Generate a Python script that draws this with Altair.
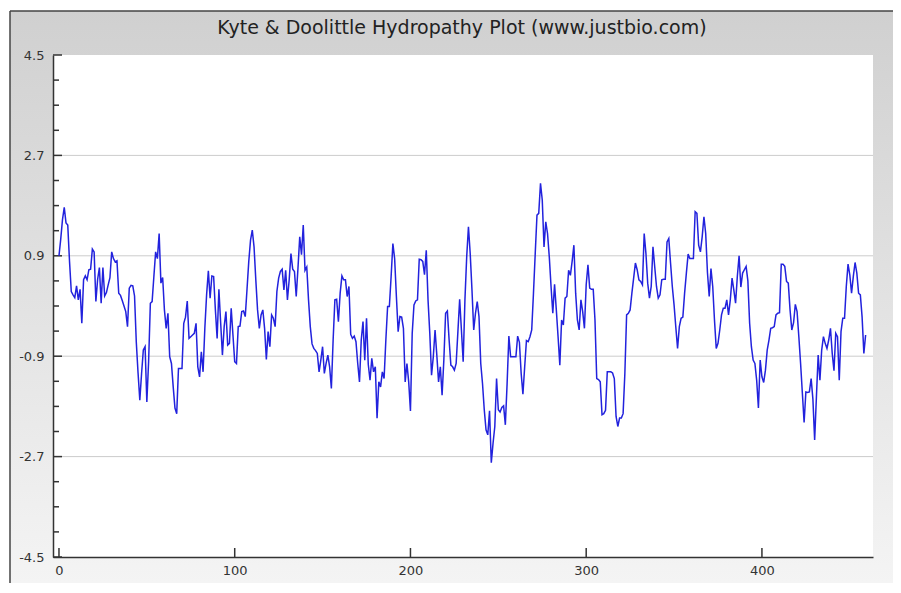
import altair as alt
import pandas as pd

# Hydropathy scores, one per residue
scores = [
    0.9, 1.2, 1.55, 1.77, 1.49, 1.45, 0.8, 0.26, 0.2, 0.15,
    0.36, 0.11, 0.3, -0.31, 0.47, 0.54, 0.47, 0.65, 0.66, 1.02,
    0.97, 0.08, 0.48, 0.69, 0.05, 0.69, 0.18, 0.24, 0.38, 0.51,
    0.97, 0.85, 0.79, 0.81, 0.23, 0.19, 0.1, 0.0, -0.1, -0.37,
    0.32, 0.37, 0.36, 0.18, -0.65, -1.2, -1.69, -1.21, -0.79, -0.73,
    -1.72, -1.0, 0.05, 0.08, 0.53, 0.97, 0.85, 1.3, 0.41, 0.51,
    -0.07, -0.4, -0.13, -0.91, -1.03, -1.45, -1.83, -1.93, -1.12, -1.12,
    -1.12, -0.31, -0.2, 0.09, -0.58, -0.55, -0.52, -0.49, -0.31, -1.09,
    -1.27, -0.82, -1.18, -0.4, 0.2, 0.63, 0.14, 0.54, 0.53, -0.07,
    -0.58, 0.3, -0.3, -0.88, -0.37, -0.1, -0.7, -0.67, -0.04, -0.52,
    -1.0, -1.03, -0.37, -0.36, -0.1, -0.09, -0.19, 0.3, 0.8, 1.18,
    1.36, 1.06, 0.47, -0.07, -0.4, -0.16, -0.07, -0.4, -0.96, -0.46,
    -0.73, -0.16, -0.22, -0.37, 0.26, 0.5, 0.62, 0.66, 0.29, 0.64,
    0.11, 0.47, 0.94, 0.66, 0.62, 0.17, 0.68, 1.24, 0.92, 1.45,
    0.64, 0.7, 0.11, -0.37, -0.68, -0.76, -0.8, -0.85, -1.18, -0.97,
    -0.73, -1.21, -1.03, -0.88, -1.09, -1.48, -0.61, 0.11, 0.12, -0.28,
    0.23, 0.54, 0.47, 0.47, 0.17, 0.35, -0.51, -0.58, -0.54, -0.64,
    -1.03, -1.36, -0.61, -0.28, -0.97, -0.22, -1.05, -1.33, -0.94, -1.18,
    -1.09, -2.01, -1.36, -1.45, -1.18, -1.3, -0.61, -0.01, -0.01, 0.53,
    1.12, 0.85, 0.17, -0.46, -0.19, -0.2, -0.4, -1.36, -1.03, -1.36,
    -1.88, -0.49, 0.02, 0.09, 0.11, 0.84, 0.83, 0.8, 0.56, 1.0,
    0.11, -0.49, -1.24, -0.91, -0.43, -0.88, -1.36, -1.09, -1.6, -0.97,
    -0.13, -0.09, -0.61, -1.06, -1.09, -1.15, -1.03, -0.46, 0.12, -0.43,
    -1.0, 0.11, 0.88, 1.42, 0.94, 0.29, -0.43, -0.13, 0.08, -0.19,
    -1.03, -1.39, -1.86, -2.22, -2.31, -1.88, -2.81, -2.46, -2.16, -1.3,
    -1.86, -1.9, -1.82, -1.79, -2.13, -1.39, -0.54, -0.91, -0.91, -0.91,
    -0.91, -0.54, -0.65, -1.21, -1.58, -1.09, -0.62, -0.64, -0.55, -0.43,
    0.23, 0.94, 1.63, 1.66, 2.2, 1.9, 1.06, 1.51, 1.3, 0.88,
    0.35, -0.13, 0.39, -0.07, -0.55, -1.06, -0.25, -0.34, 0.14, 0.17,
    0.64, 0.55, 0.8, 1.09, 0.23, -0.25, -0.43, 0.11, -0.1, -0.4,
    0.38, 0.74, 0.32, 0.3, 0.3, -0.25, -1.3, -1.32, -1.36, -1.95,
    -1.93, -1.87, -1.18, -1.18, -1.18, -1.2, -1.3, -1.98, -2.16, -2.01,
    -2.01, -1.93, -1.21, -0.16, -0.13, -0.07, 0.23, 0.5, 0.77, 0.65,
    0.47, 0.44, 0.38, 1.3, 0.94, 0.41, 0.14, 0.35, 1.06, 0.7,
    0.35, 0.14, 0.2, 0.47, 0.48, 0.48, 1.15, 1.21, 0.77, 0.35,
    0.02, -0.38, -0.76, -0.37, -0.22, -0.2, 0.23, 0.59, 0.93, 0.85,
    0.85, 0.85, 1.69, 1.66, 1.09, 0.97, 1.24, 1.6, 1.3, 0.6,
    0.17, 0.67, 0.35, -0.25, -0.76, -0.67, -0.43, -0.16, -0.04, -0.04,
    0.11, -0.16, 0.11, 0.5, 0.29, 0.05, 0.53, 0.9, 0.34, 0.59,
    0.65, 0.71, 0.45, -0.31, -0.73, -0.97, -1.03, -1.33, -1.83, -0.97,
    -1.27, -1.37, -1.15, -0.79, -0.61, -0.4, -0.39, -0.37, -0.16, -0.13,
    -0.12, 0.75, 0.75, 0.71, 0.44, 0.41, -0.07, -0.43, -0.3, 0.03,
    -0.1, -0.55, -1.03, -1.56, -2.09, -1.54, -1.55, -1.54, -1.3, -1.67,
    -2.4, -1.63, -0.88, -1.33, -0.79, -0.55, -0.67, -0.76, -0.61, -0.4,
    -0.85, -1.16, -0.49, -0.55, -1.33, -0.46, -0.22, -0.22, 0.35, 0.75,
    0.56, 0.23, 0.53, 0.78, 0.59, 0.23, 0.2, -0.2, -0.85, -0.52,
]
residues = list(range(len(scores)))

y_major = [-4.5, -2.7, -0.9, 0.9, 2.7, 4.5]
y_minor = [-4.05, -3.6, -3.15, -2.25, -1.8, -1.35, -0.45, 0.0, 0.45,
           1.35, 1.8, 2.25, 3.15, 3.6, 4.05]
grid_values = [-2.7, -0.9, 0.9, 2.7]
x_major = [0, 100, 200, 300, 400]
title_text = "Kyte & Doolittle Hydropathy Plot (www.justbio.com)"

W, H = 820, 502
FONT = "DejaVu Sans"
AX = "#333333"

xscale = alt.Scale(domain=[-3.4, 463.2], nice=False, zero=False)
yscale = alt.Scale(domain=[-4.5, 4.5], nice=False, zero=False)

x_axis = alt.Axis(values=x_major, format="d", ticks=False, tickSize=0,
                  grid=False, title=None, labelPadding=7, labelFlush=False,
                  zindex=2)
y_axis = alt.Axis(values=y_major, ticks=False, tickSize=0, grid=False,
                  title=None, labelPadding=9, zindex=2, labelFlush=False,
                  labelExpr="datum.value < 0 ? '-' + format(-datum.value, '.1f') : format(datum.value, '.1f')")

one = pd.DataFrame({"k": [0]})

# panel background (gradient) and white plot area
bg = alt.Chart(one).mark_rect(
    fill=alt.Gradient(
        gradient="linear",
        stops=[alt.GradientStop(color="#d0d0d0", offset=0),
               alt.GradientStop(color="#f4f4f4", offset=1)],
        x1=0, x2=0, y1=0, y2=1,
    )
).encode(x=alt.value(-43), x2=alt.value(W + 20), y=alt.value(-44), y2=alt.value(H + 26))

frame_top = alt.Chart(one).mark_rule(color="#444444", strokeWidth=1.5).encode(
    x=alt.value(-43), x2=alt.value(W + 20), y=alt.value(-44))
frame_left = alt.Chart(one).mark_rule(color="#444444", strokeWidth=1.5).encode(
    x=alt.value(-43), y=alt.value(-44), y2=alt.value(H + 26))

plot_bg = alt.Chart(one).mark_rect(fill="white").encode(
    x=alt.value(0), x2=alt.value(W), y=alt.value(0), y2=alt.value(H))

title_mark = alt.Chart(one).mark_text(
    font=FONT, fontSize=19, color="#222222", align="center", baseline="middle"
).encode(x=alt.value(W / 2 - 1), y=alt.value(-27), text=alt.value(title_text))

grid = alt.Chart(pd.DataFrame({"v": grid_values})).mark_rule(
    color="#cccccc", strokeWidth=1).encode(
    y=alt.Y("v:Q", scale=yscale, axis=y_axis), x=alt.value(0), x2=alt.value(W))

ytick_major = alt.Chart(pd.DataFrame({"v": y_major})).mark_rule(
    color=AX, strokeWidth=1.5).encode(
    y=alt.Y("v:Q", scale=yscale, axis=y_axis), x=alt.value(0), x2=alt.value(9))

ytick_minor = alt.Chart(pd.DataFrame({"v": y_minor})).mark_rule(
    color=AX, strokeWidth=1.5).encode(
    y=alt.Y("v:Q", scale=yscale, axis=y_axis), x=alt.value(0), x2=alt.value(6))

xtick = alt.Chart(pd.DataFrame({"residue": x_major})).mark_rule(
    color=AX, strokeWidth=1.5).encode(
    x=alt.X("residue:Q", scale=xscale, axis=x_axis), y=alt.value(H), y2=alt.value(H - 9))

line = alt.Chart(pd.DataFrame({"residue": residues, "v": scores})).mark_line(
    color="#2222dd", strokeWidth=1.5).encode(
    x=alt.X("residue:Q", scale=xscale, axis=x_axis),
    y=alt.Y("v:Q", scale=yscale, axis=y_axis),
)

chart = alt.layer(
    bg, frame_top, frame_left, plot_bg, title_mark, grid, ytick_minor, ytick_major, xtick, line
).properties(
    width=W, height=H,
    padding={"left": 45, "top": 47, "right": 20, "bottom": 26},
    autosize=alt.AutoSizeParams(type="none"),
    background="white",
).configure_view(stroke=None).configure_axis(
    domainColor=AX, domainWidth=1.5, labelFont=FONT, labelFontSize=13,
    labelColor=AX,
)

chart.save("out.html", embed_options={"renderer": "svg", "actions": False})
